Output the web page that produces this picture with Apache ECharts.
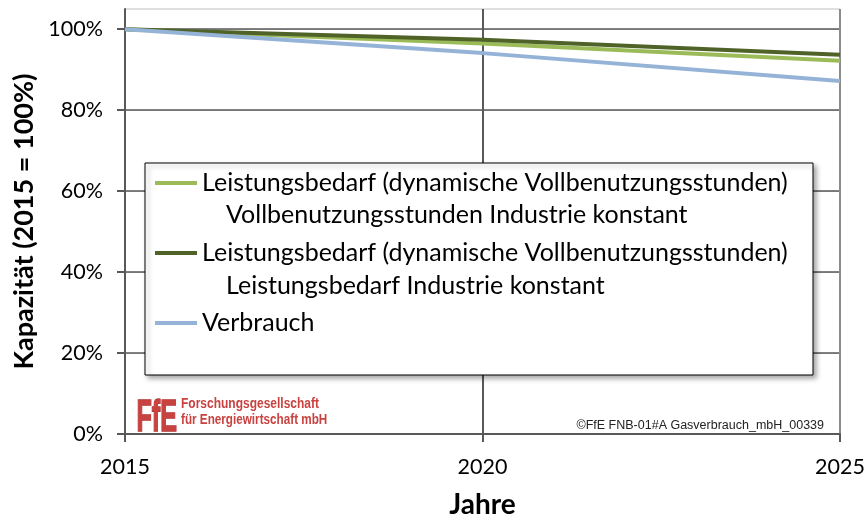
<!DOCTYPE html>
<html>
<head>
<meta charset="utf-8">
<script src="https://cdn.jsdelivr.net/npm/echarts@6/dist/echarts.min.js"></script>
<style>
  html, body { margin: 0; padding: 0; background: #fff; }
  #chart { width: 868px; height: 524px; }
</style>
</head>
<body>
<div id="chart"></div>
<script>
// data
const years = [2015, 2020, 2025]
const seriesNames = [
  'Leistungsbedarf (dynamische Vollbenutzungsstunden)\nVollbenutzungsstunden Industrie konstant',
  'Leistungsbedarf (dynamische Vollbenutzungsstunden)\nLeistungsbedarf Industrie konstant',
  'Verbrauch'
]
const vbhKonstant = [100, 96.5, 92.2]
const lbKonstant = [100, 97.4, 93.7]
const verbrauch = [100, 94.1, 87.2]
const yTicks = [0, 20, 40, 60, 80, 100]
const xTicks = [2015, 2020, 2025]

const colors = ['#9BBB59', '#4F6228', '#95B3D7']
const font = 'Lato'
const majorColor = '#595959'
const minorColor = '#d4d4d4'

function pairs(vals) {
  return years.map((y, i) => [y, vals[i]])
}

// legend rows: center y of the icon, y of second text line
const legendRows = [183, 253, 323]
const secondRows = [215, 286]

const chart = echarts.init(document.getElementById('chart'))

let legends = seriesNames.map((n, i) => ({
  data: [n],
  orient: 'vertical',
  left: 155,
  top: legendRows[i] - 15,
  padding: 0,
  icon: 'rect',
  itemWidth: 42,
  itemHeight: 4,
  z: 6,
  formatter: name => name.split('\n')[0],
  textStyle: { fontFamily: font, fontSize: 25, color: '#000', lineHeight: 30 }
}))

let graphics = [
  {
    type: 'rect', z: 5,
    shape: { x: 145, y: 163, width: 668, height: 212 },
    style: { fill: '#fff', stroke: '#000', lineWidth: 1, shadowBlur: 5, shadowOffsetX: 3, shadowOffsetY: 3, shadowColor: 'rgba(0,0,0,0.35)' }
  },
  {
    type: 'text', z: 4, left: 136, top: 395, scaleX: 0.56,
    style: { text: 'FfE', fontFamily: 'Liberation Sans', fontWeight: 'bold', fontSize: 45, fill: '#c8423f', stroke: '#b03030', lineWidth: 1.5, shadowBlur: 2, shadowColor: 'rgba(120,0,0,0.5)', shadowOffsetX: 1, shadowOffsetY: 1 }
  },
  {
    type: 'text', z: 4, left: 181, top: 396, scaleX: 0.8,
    style: { text: 'Forschungsgesellschaft', fontFamily: 'Liberation Sans', fontWeight: 'bold', fontSize: 15, fill: '#c8423f' }
  },
  {
    type: 'text', z: 4, left: 181, top: 412, scaleX: 0.78,
    style: { text: 'für Energiewirtschaft mbH', fontFamily: 'Liberation Sans', fontWeight: 'bold', fontSize: 15, fill: '#c8423f' }
  },
  {
    type: 'text', z: 4, right: 44, top: 419,
    style: { text: '©FfE FNB-01#A Gasverbrauch_mbH_00339', fontFamily: 'Liberation Sans', fontSize: 12.5, fill: '#222' }
  }
]
secondRows.forEach((y, i) => {
  graphics.push({
    type: 'text', z: 6, left: 226, top: y - 15,
    style: { text: seriesNames[i].split('\n')[1], fontFamily: font, fontSize: 25, fill: '#000', lineHeight: 30 }
  })
})

const option = {
  animation: false,
  backgroundColor: '#fff',
  grid: { left: 125, right: 28, top: 9, bottom: 84 },
  legend: legends,
  graphic: graphics,
  xAxis: {
    type: 'value',
    min: 2015,
    max: 2025,
    interval: 5,
    name: 'Jahre',
    nameLocation: 'middle',
    nameGap: 57,
    nameTextStyle: { fontFamily: font, fontSize: 28, fontWeight: 'bold', color: '#000' },
    axisLine: { lineStyle: { color: majorColor, width: 2 } },
    axisTick: { show: true, length: 8, lineStyle: { color: majorColor, width: 2 } },
    axisLabel: {
      fontFamily: font, fontSize: 21.5, color: '#000', margin: 22,
      customValues: xTicks,
      formatter: v => String(v)
    },
    splitLine: { show: true, lineStyle: { color: [majorColor, majorColor, '#8c8c8c'], width: 2 } }
  },
  yAxis: [
    {
      type: 'value',
      min: 0,
      max: 105,
      interval: 5,
      name: 'Kapazität (2015 = 100%)',
      nameLocation: 'middle',
      nameGap: 80,
      nameRotate: 90,
      nameTextStyle: { fontFamily: font, fontSize: 27, fontWeight: 'bold', color: '#000' },
      axisLine: { show: true, lineStyle: { color: majorColor, width: 2 } },
      axisTick: { show: true, length: 8, customValues: yTicks, lineStyle: { color: majorColor, width: 2 } },
      axisLabel: {
        fontFamily: font, fontSize: 21.5, color: '#000', margin: 22,
        customValues: yTicks,
        formatter: v => v + '%'
      },
      splitLine: { show: true, lineStyle: { color: minorColor, width: 1 } }
    },
    {
      type: 'value',
      min: 0,
      max: 105,
      interval: 20,
      position: 'left',
      axisLine: { show: false },
      axisTick: { show: false },
      axisLabel: { show: false },
      splitLine: { show: true, lineStyle: { color: [majorColor, majorColor, majorColor, majorColor, majorColor, majorColor, minorColor], width: 1.5 } }
    }
  ],
  series: [
    { name: seriesNames[0], type: 'line', data: pairs(vbhKonstant), symbol: 'none', color: colors[0], lineStyle: { width: 4 } },
    { name: seriesNames[1], type: 'line', data: pairs(lbKonstant), symbol: 'none', color: colors[1], lineStyle: { width: 4 } },
    { name: seriesNames[2], type: 'line', data: pairs(verbrauch), symbol: 'none', color: colors[2], lineStyle: { width: 4 } }
  ]
}
chart.setOption(option)
</script>
</body>
</html>
